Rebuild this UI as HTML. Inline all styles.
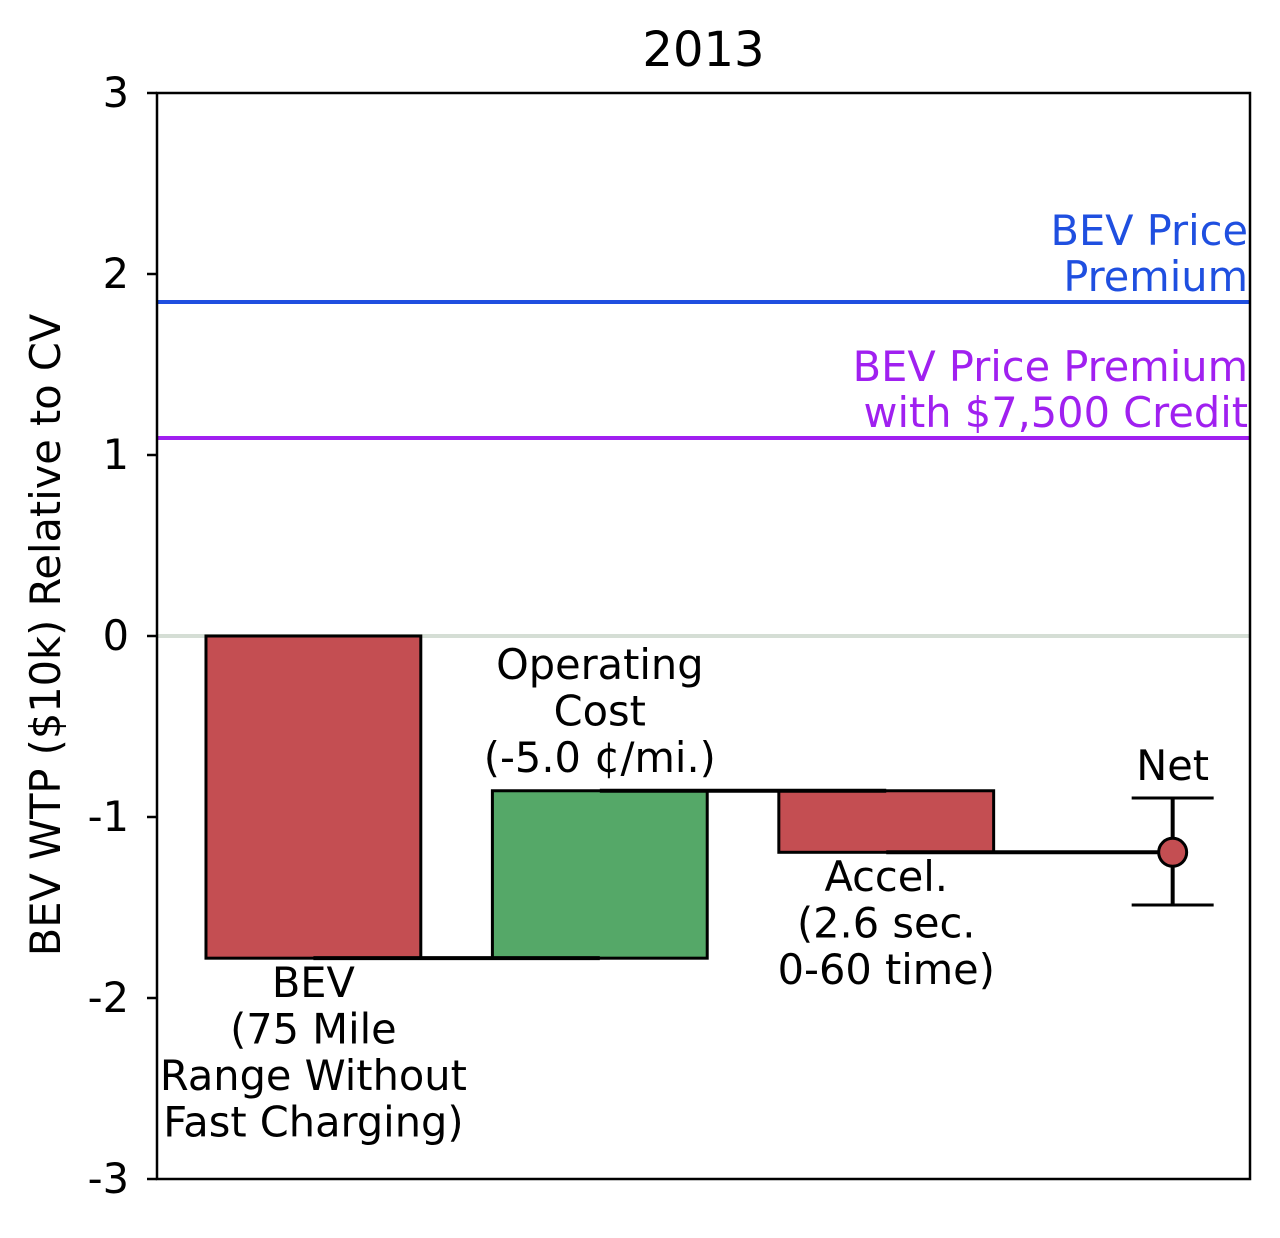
<!DOCTYPE html>
<html><head><meta charset="utf-8"><style>
html,body{margin:0;padding:0;background:#fff;}
svg text{font-family:"DejaVu Sans","Liberation Sans",sans-serif;}
</style></head><body>
<svg id="chart" width="1280" height="1233" viewBox="0 0 1280 1233" xmlns="http://www.w3.org/2000/svg">
</svg>
<script>
const categories = ["BEV\n(75 Mile\nRange Without\nFast Charging)", "Operating\nCost\n(-5.0 ¢/mi.)", "Accel.\n(2.6 sec.\n0-60 time)", "Net"];
const deltas = [-1.78, 0.925, -0.34];
const netValue = -1.195;
const netErrLow = -1.486;
const netErrHigh = -0.895;
const premiumLines = [1.845, 1.094];
const premiumLabels = ["BEV Price\nPremium", "BEV Price Premium\nwith $7,500 Credit"];
const yTicks = [3, 2, 1, 0, -1, -2, -3];

const NS = "http://www.w3.org/2000/svg";
const svg = document.getElementById("chart");
const L = 157, R = 1250, T = 93, B = 1179;
const yMin = -3, yMax = 3, xMin = -0.546, xMax = 3.27;
const y = v => T + (yMax - v) / (yMax - yMin) * (B - T);
const x = v => L + (v - xMin) / (xMax - xMin) * (R - L);
const bw = 0.75 * (x(1) - x(0));

function el(tag, attrs, parent) {
  const e = document.createElementNS(NS, tag);
  for (const k in attrs) e.setAttribute(k, attrs[k]);
  (parent || svg).appendChild(e);
  return e;
}
function multiText(lines, cx, y0, lh, anchor, fill, size, name) {
  const t = el("text", {x: cx, y: y0, "text-anchor": anchor, fill: fill, "font-size": size});
  
  
  lines.forEach((ln, i) => {
    const s = el("tspan", {x: cx, dy: i === 0 ? 0 : lh}, t);
    s.textContent = ln;
  });
  return t;
}

const fs = 41.5;
const lh = 46.5;

const zl = el("line", {x1: L, x2: R, y1: y(0), y2: y(0), stroke: "#d5ded5", "stroke-width": 4});



const pColors = ["#1f4fe0", "#a020f0"];
premiumLines.forEach((v, i) => {
  const ln = el("line", {x1: L, x2: R, y1: y(v), y2: y(v), stroke: pColors[i], "stroke-width": 4});
  
  
  const lines = premiumLabels[i].split("\n");
  multiText(lines, R - 2, y(v) - 11 - (lines.length - 1) * 46, 46, "end", pColors[i], fs, i === 0 ? 'price-premium-label' : 'price-premium-credit-label');
});

const barColors = ["#c44e52", "#55a868", "#c44e52"];
let cum = 0;
const levels = [];
deltas.forEach((d, i) => {
  const start = cum, end = cum + d;
  levels.push(end);
  const top = y(Math.max(start, end)), bot = y(Math.min(start, end));
  const r = el("rect", {x: x(i) - bw / 2, y: top, width: bw, height: bot - top, fill: barColors[i], stroke: "#000", "stroke-width": 3});
  
  
  cum = end;
});
levels.forEach((lv, i) => {
  const c = el("line", {x1: x(i), x2: x(i + 1), y1: y(lv), y2: y(lv), stroke: "#000", "stroke-width": 4});
  
  
});

const nx = x(3);
const eb = el("line", {x1: nx, x2: nx, y1: y(netErrHigh), y2: y(netErrLow), stroke: "#000", "stroke-width": 4});


[netErrHigh, netErrLow].forEach((v, i) => {
  const cap = el("line", {x1: nx - 41, x2: nx + 41, y1: y(v), y2: y(v), stroke: "#000", "stroke-width": 3});
  
  
});
const pt = el("circle", {cx: nx, cy: y(netValue), r: 14, fill: "#c44e52", stroke: "#000", "stroke-width": 3});



multiText(categories[0].split("\n"), x(0), 997, lh, "middle", "#000", fs, 'label-bev');
multiText(categories[1].split("\n"), x(1), 679, lh, "middle", "#000", fs, 'label-operating-cost');
multiText(categories[2].split("\n"), x(2), 891, lh, "middle", "#000", fs, 'label-accel');
multiText([categories[3]], x(3), 780, lh, "middle", "#000", fs, 'label-net');

const frame = el("rect", {x: L, y: T, width: R - L, height: B - T, fill: "none", stroke: "#000", "stroke-width": 2.5});



yTicks.forEach(v => {
  const tk = el("line", {x1: L - 10, x2: L, y1: y(v), y2: y(v), stroke: "#000", "stroke-width": 2.5});
  
  
  const t = el("text", {x: L - 28, y: y(v) + 14, "text-anchor": "end", "font-size": fs, fill: "#000"});
  
  
  t.textContent = String(v);
});

const yt = el("text", {x: 0, y: 0, "text-anchor": "middle", "font-size": fs, fill: "#000", transform: `translate(60 ${(T + B) / 2 - 1}) rotate(-90)`});


yt.textContent = "BEV WTP ($10k) Relative to CV";

const title = el("text", {x: (L + R) / 2, y: 66, "text-anchor": "middle", "font-size": 48, fill: "#000"});


title.textContent = "2013";
</script>
</body></html>
